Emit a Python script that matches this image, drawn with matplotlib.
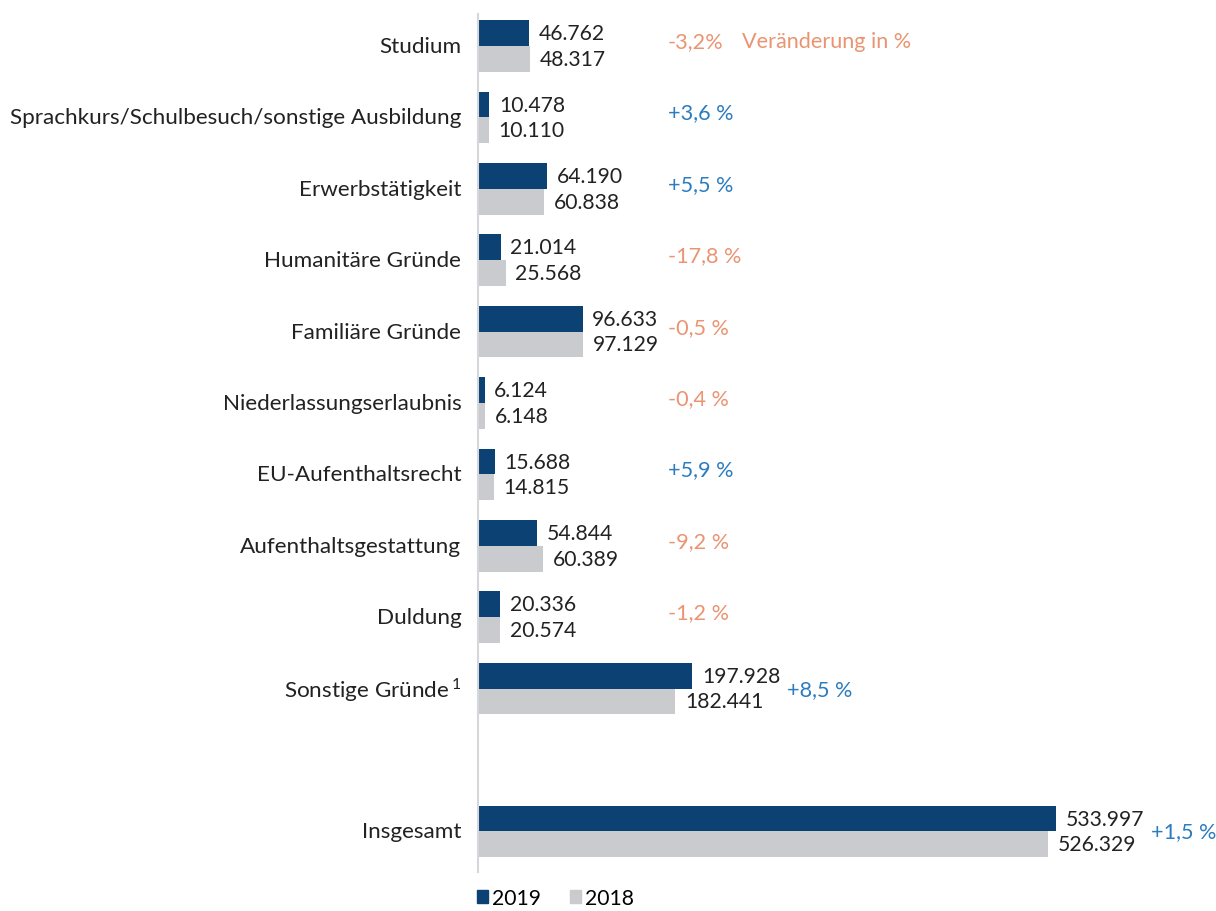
import matplotlib
matplotlib.use("Agg")
import matplotlib.pyplot as plt
from matplotlib.patches import Patch

categories = ["Studium", "Sprachkurs/Schulbesuch/sonstige Ausbildung", "Erwerbstätigkeit",
              "Humanitäre Gründe", "Familiäre Gründe", "Niederlassungserlaubnis",
              "EU-Aufenthaltsrecht", "Aufenthaltsgestattung", "Duldung",
              "Sonstige Gründe$^{\\,1}$", "Insgesamt"]
values_2019 = [46762, 10478, 64190, 21014, 96633, 6124, 15688, 54844, 20336, 197928, 533997]
values_2018 = [48317, 10110, 60838, 25568, 97129, 6148, 14815, 60389, 20574, 182441, 526329]
labels_2019 = ["46.762", "10.478", "64.190", "21.014", "96.633", "6.124", "15.688", "54.844", "20.336", "197.928", "533.997"]
labels_2018 = ["48.317", "10.110", "60.838", "25.568", "97.129", "6.148", "14.815", "60.389", "20.574", "182.441", "526.329"]
changes = ["-3,2%", "+3,6 %", "+5,5 %", "-17,8 %", "-0,5 %", "-0,4 %", "+5,9 %", "-9,2 %", "-1,2 %", "+8,5 %", "+1,5 %"]
legend_labels = ["2019", "2018"]

NAVY = "#0c4173"
GRAY = "#c9cbce"
ORANGE = "#ea9472"
BLUE = "#2c7cc0"
TXT = "#222222"
FONT = ["Lato", "DejaVu Sans"]
plt.rcParams['font.family'] = FONT
plt.rcParams['mathtext.fontset'] = 'custom'
plt.rcParams['mathtext.rm'] = 'Lato'
FS = 16.2
FSN = 15.2
FSP = 15.6

W, H = 1216, 912
fig = plt.figure(figsize=(W / 100, H / 100), dpi=100)
ax = fig.add_axes([478 / W, 0, (W - 478) / W, 1])

positions = list(range(10)) + [11]
bh = 0.36
ax.barh([p - bh / 2 for p in positions], values_2019, height=bh, color=NAVY)
ax.barh([p + bh / 2 for p in positions], values_2018, height=bh, color=GRAY)

x_max = 533997 * (W - 478) / (1056 - 478)
ax.set_xlim(0, x_max)
y0 = (0 - 47) / 71.4
y1 = (H - 47) / 71.4
ax.set_ylim(y1, y0)
ax.axis("off")

ax.plot([0, 0], [(15 - 47) / 71.4, (873 - 47) / 71.4], color="#d5d7da", lw=1.5, clip_on=False)

fig.canvas.draw()
renderer = fig.canvas.get_renderer()
pct_col = x_max * (668 - 478) / (W - 478)
for p, cat, v19, v18, l19, l18, ch in zip(positions, categories, values_2019, values_2018,
                                          labels_2019, labels_2018, changes):
    ax.annotate(cat, (0, p), xytext=(-12, 0), textcoords="offset points",
                ha="right", va="center", fontsize=FS, color=TXT, annotation_clip=False)
    t19 = ax.annotate(l19, (v19, p - bh / 2), xytext=(7, 0), textcoords="offset points",
                      ha="left", va="center", fontsize=FSN, color=TXT)
    ax.annotate(l18, (v18, p + bh / 2), xytext=(7, 0), textcoords="offset points",
                ha="left", va="center", fontsize=FSN, color=TXT)
    bb = t19.get_window_extent(renderer)
    end_data = ax.transData.inverted().transform((bb.x1, bb.y0))[0]
    col = ORANGE if ch.startswith("-") else BLUE
    if end_data + x_max * 8 / (W - 478) < pct_col:
        ax.text(pct_col, p - 0.07, ch, ha="left", va="center", fontsize=FSP, color=col)
    else:
        ax.annotate(ch, (end_data, p), xytext=(5, 0), textcoords="offset points",
                    ha="left", va="center", fontsize=FSP, color=col)

ax.annotate("Veränderung in %", (pct_col, -0.07), xytext=(53, 0), textcoords="offset points",
            ha="left", va="center", fontsize=FSP, color=ORANGE)

handles = [Patch(color=NAVY), Patch(color=GRAY)]
fig.legend(handles, legend_labels, loc="center left", bbox_to_anchor=(477 / W, 1 - 899 / H),
           ncol=2, frameon=False, fontsize=FSN, handlelength=0.5, handleheight=0.5,
           handletextpad=0.2, columnspacing=1.4, borderpad=0, borderaxespad=0)

fig.savefig("out.png", dpi=100)
